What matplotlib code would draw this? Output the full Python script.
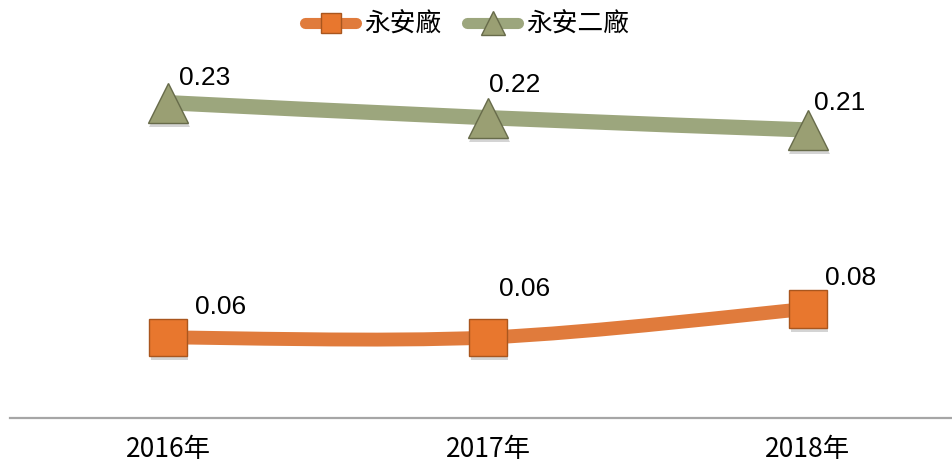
import numpy as np
import matplotlib
matplotlib.use("Agg")
import matplotlib.pyplot as plt
from matplotlib.path import Path
from matplotlib.patches import PathPatch
from matplotlib.lines import Line2D
import matplotlib.patheffects as pe

plt.rcParams['font.family'] = ['Noto Sans CJK TC', 'DejaVu Sans']

years = ['2016年', '2017年', '2018年']
plant1 = [0.059, 0.059, 0.080]   # 永安廠
plant2 = [0.231, 0.220, 0.211]   # 永安二廠
names = ['永安廠', '永安二廠']

orange = '#E07B3C'
orange_mk = '#E8772E'
orange_edge = '#A9561E'
green = '#9CA67D'
green_mk = '#9A9F73'
green_edge = '#676B4A'

# label offsets in pixels (dx, dy) for each point
off1 = [(52, 30), (37, 48), (43, 31)]
off2 = [(37, 25), (27, 33), (32, 27)]


def smooth_path(xs, ys):
    pts = np.column_stack([xs, ys]).astype(float)
    verts = [pts[0]]
    codes = [Path.MOVETO]
    n = len(pts)
    for i in range(n - 1):
        p0 = pts[i - 1] if i > 0 else pts[i]
        p1 = pts[i]
        p2 = pts[i + 1]
        p3 = pts[i + 2] if i + 2 < n else pts[i + 1]
        c1 = p1 + (p2 - p0) / 6.0
        c2 = p2 - (p3 - p1) / 6.0
        verts += [c1, c2, p2]
        codes += [Path.CURVE4] * 3
    return Path(verts, codes)


fig = plt.figure(figsize=(9.53, 4.65), dpi=100)
ax = fig.add_axes([10 / 953, 47 / 465, 943 / 953, 409.5 / 465])
x = np.arange(len(years))

shadow = [pe.SimplePatchShadow(offset=(1, -3), alpha=0.25, shadow_rgbFace='#555555'), pe.Normal()]

for vals, col, lw in [(plant2, green, 11), (plant1, orange, 10)]:
    ax.add_patch(PathPatch(smooth_path(x, vals), facecolor='none', edgecolor=col,
                           lw=lw, capstyle='butt', zorder=2))

ax.plot(x, plant2, linestyle='none', marker='^', ms=29, mfc=green_mk, mec=green_edge,
        mew=1, zorder=3, path_effects=shadow)
ax.plot(x, plant1, linestyle='none', marker='s', ms=27, mfc=orange_mk, mec=orange_edge,
        mew=1, zorder=3, path_effects=shadow)

for vals, offs in [(plant1, off1), (plant2, off2)]:
    for xi, v, (dx, dy) in zip(x, vals, offs):
        ax.annotate('%.2f' % v, (xi, v), xytext=(dx * 0.72, dy * 0.72),
                    textcoords='offset points', ha='center', va='center',
                    fontsize=19, family=['Liberation Sans', 'DejaVu Sans'], color='black', zorder=5)

ax.set_xlim(-0.494, 2.453)
ax.set_ylim(0, 0.3)
ax.set_xticks(x)
ax.set_xticklabels(years, fontsize=19)
ax.set_yticks([])
ax.tick_params(axis='x', length=0, pad=13)
for s in ['top', 'left', 'right']:
    ax.spines[s].set_visible(False)
ax.spines['bottom'].set_color('#A6A6A6')
ax.spines['bottom'].set_linewidth(1.6)

handles = [
    Line2D([], [], color=orange, lw=8, solid_capstyle='round', marker='s', ms=15,
           mfc=orange_mk, mec=orange_edge),
    Line2D([], [], color=green, lw=8, solid_capstyle='round', marker='^', ms=17,
           mfc=green_mk, mec=green_edge),
]
fig.legend(handles, names, loc='center', bbox_to_anchor=(467 / 953, 1 - 25 / 465), ncol=2,
           frameon=False, fontsize=18.5, handlelength=2.0, handletextpad=0.3, columnspacing=1.0)

fig.savefig('out.png', dpi=100)
